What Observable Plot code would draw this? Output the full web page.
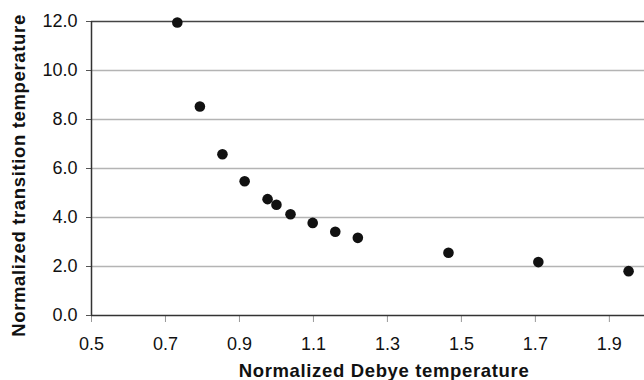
<!DOCTYPE html>
<html><head><meta charset="utf-8">
<script src="https://cdn.jsdelivr.net/npm/d3@7"></script>
<script src="https://cdn.jsdelivr.net/npm/@observablehq/plot@0.6"></script>
<style>body{margin:0;background:#fff}</style>
</head><body><div id="chart"></div>
<script>
const debye = [0.732, 0.793, 0.854, 0.914, 0.976, 1.0, 1.038, 1.098, 1.159, 1.22, 1.465, 1.708, 1.952];
const transition = [11.96, 8.53, 6.58, 5.48, 4.75, 4.52, 4.13, 3.78, 3.42, 3.17, 2.56, 2.18, 1.81];
const xTicks = [0.5, 0.7, 0.9, 1.1, 1.3, 1.5, 1.7, 1.9];
const yTicks = [0, 2, 4, 6, 8, 10, 12];
const xLabel = "Normalized Debye temperature";
const yLabel = "Normalized transition temperature";

const data = debye.map((d, i) => ({x: d, y: transition[i]}));
const fmt = d3.format(".1f");

const chart = Plot.plot({
  width: 644, height: 380,
  marginLeft: 91, marginRight: 0, marginTop: 21, marginBottom: 65,
  style: {fontFamily: "'Liberation Sans', Arial, sans-serif", fontSize: "18px", background: "#fff", color: "#111"},
  x: {domain: [0.5, 1.995]},
  y: {domain: [0, 12]},
  marks: [
    Plot.ruleY(yTicks.filter(d => d > 0 && d < 12), {stroke: "#b4b4b4", strokeWidth: 1.3}),
    Plot.ruleY([12], {stroke: "#444", strokeWidth: 1.5}),
    Plot.axisX({ticks: xTicks, tickFormat: fmt, tickSize: 7, tickPadding: 15, stroke: "#999", label: null}),
    Plot.axisY({ticks: yTicks, tickFormat: fmt, tickSize: 5, tickPadding: 9, stroke: "#555", label: null}),
    Plot.ruleY([0], {stroke: "#333", strokeWidth: 1.5}),
    Plot.ruleX([0.5], {stroke: "#333", strokeWidth: 1.5}),
    Plot.dot(data, {x: "x", y: "y", r: 5.3, fill: "#111"}),
    Plot.text([xLabel], {text: d => d, frameAnchor: "bottom", textAnchor: "middle", lineAnchor: "middle", dx: 16, dy: 56, fontWeight: "bold", fontSize: 18.5}),
    Plot.text([yLabel], {text: d => d, frameAnchor: "left", textAnchor: "middle", lineAnchor: "middle", rotate: -90, dx: -72, dy: 7, fontWeight: "bold", fontSize: 18.5})
  ]
});
d3.select(chart).selectAll("text")
  .filter(function() { return this.textContent === xLabel || this.textContent === yLabel; })
  .style("letter-spacing", "0.65px");
document.getElementById("chart").appendChild(chart);
</script>
</body></html>
